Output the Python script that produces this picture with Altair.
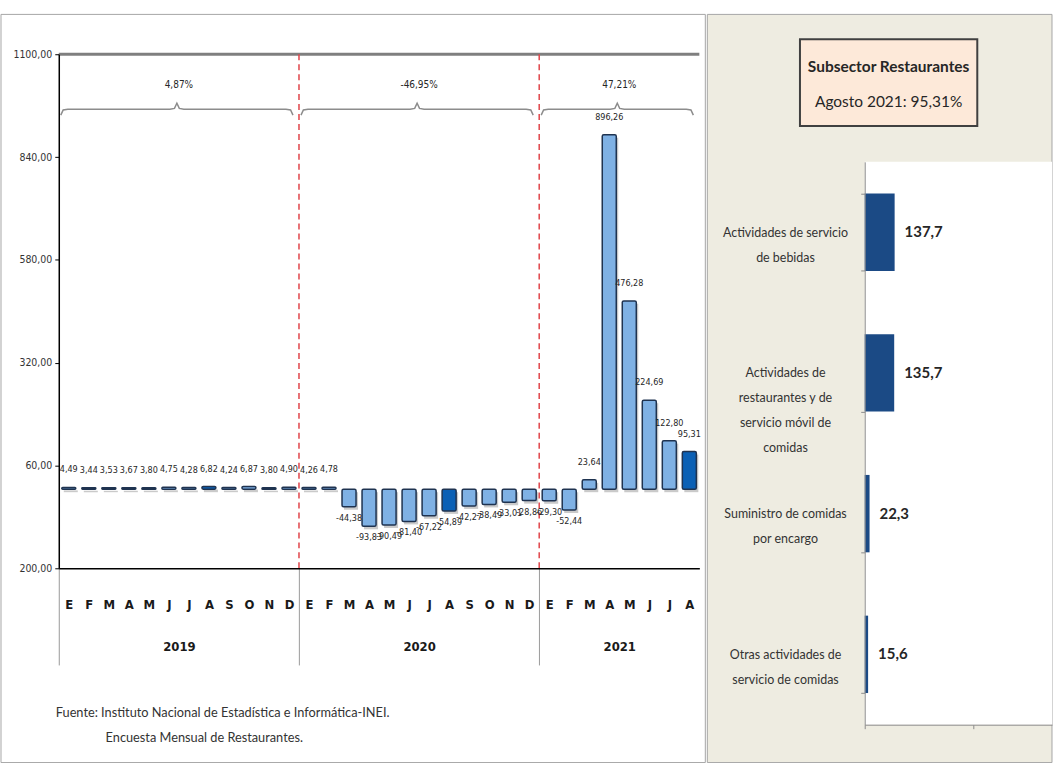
import json
import altair as alt
import pandas as pd

# ---- monthly variation of the restaurant subsector (%) ----
month_letters = ["E", "F", "M", "A", "M", "J", "J", "A", "S", "O", "N", "D"]
years = [2019, 2020, 2021]
values_2019 = [4.49, 3.44, 3.53, 3.67, 3.80, 4.75, 4.28, 6.82, 4.24, 6.87, 3.80, 4.90]
values_2020 = [4.26, 4.78, -44.38, -93.83, -90.49, -81.40, -67.22, -54.89, -42.27, -38.49, -33.01, -28.86]
values_2021 = [-29.30, -52.44, 23.64, 896.26, 476.28, 224.69, 122.80, 95.31]
annual_change = ["4,87%", "-46,95%", "47,21%"]
y_ticks = [-200, 60, 320, 580, 840, 1100]
highlight_month = 8  # agosto

# ---- August 2021 by activity ----
activities = [
    "Actividades de servicio|de bebidas",
    "Actividades de|restaurantes y de|servicio móvil de|comidas",
    "Suministro de comidas|por encargo",
    "Otras actividades de|servicio de comidas",
]
activity_values = [137.7, 135.7, 22.3, 15.6]

source_lines = [
    "Fuente: Instituto Nacional de Estadística e Informática-INEI.",
    "Encuesta Mensual de Restaurantes.",
]

NARROW = "Liberation Sans Narrow, DejaVu Sans Condensed, Arial Narrow, Liberation Sans, sans-serif"
SANS = "Lato, Open Sans, sans-serif"

# ---------- tables ----------
rows = []
idx = 0
for year, vals in zip(years, [values_2019, values_2020, values_2021]):
    for m, v in enumerate(vals):
        rows.append({
            "i": idx, "x0": idx + 0.15, "x1": idx + 0.85, "xc": idx + 0.5,
            "year": year, "month": m + 1, "v": v,
            "hl": "agosto" if m + 1 == highlight_month else "otro",
            "label": f"{v:.2f}".replace(".", ","),
        })
        idx += 1
monthly = pd.DataFrame(rows)
n_months = len(monthly)

spans = []
start = 0
for year, vals, txt in zip(years, [values_2019, values_2020, values_2021], annual_change):
    end = start + len(vals)
    spans.append({"year": year, "start": start, "end": end, "mid": (start + end) / 2, "txt": txt})
    start = end
spans = pd.DataFrame(spans)
boundaries = pd.DataFrame({"b": spans["start"].tolist()[1:]})

# curly braces over each year, built from the year spans
BRACE_Y, BRACE_H = 961, 15
brace_rows = []
for _, s in spans.iterrows():
    a, b = s["start"] + 0.1, s["end"] - 0.3
    m = (a + b) / 2
    pts = [(a, -BRACE_H), (a + 0.12, -2), (a + 0.35, 0), (m - 0.35, 0), (m - 0.12, 2), (m, BRACE_H),
           (m + 0.12, 2), (m + 0.35, 0), (b - 0.35, 0), (b - 0.12, -2), (b, -BRACE_H)]
    for k, (px, py) in enumerate(pts):
        brace_rows.append({"year": s["year"], "k": k, "bx": px, "by": BRACE_Y + py})
braces = pd.DataFrame(brace_rows)

one = pd.DataFrame({"z": [0]})

# ---------- left panel: monthly bars ----------
L_W, L_H = 643, 516
xscale = alt.Scale(domain=[0, n_months], nice=False, zero=False)
yscale = alt.Scale(domain=[y_ticks[0], y_ticks[-1]], nice=False, zero=False)

month_axis = alt.Axis(
    values=[i + 0.5 for i in range(n_months)],
    labelExpr=f"{json.dumps(month_letters)}[floor(datum.value) % 12]",
    orient="bottom", ticks=False, grid=False, title=None, domainColor="#000000", domainWidth=1.5,
    labelFont=NARROW, labelFontSize=13, labelFontWeight="bold", labelColor="#1a1a1a",
    labelPadding=30, labelFlush=False, labelOverlap=False, zindex=1,
)
y_axis = alt.Axis(
    values=y_ticks,
    labelExpr="replace(format(abs(datum.value), '.2f'), '.', ',')",
    tickSize=4, tickColor="#000000", domainColor="#000000", domainWidth=1.5, grid=False, title=None,
    labelFont=NARROW, labelFontSize=10.5, labelColor="#333333", labelPadding=3,
    labelFlush=False, labelOverlap=False, zindex=1,
)
year_axis = alt.Axis(
    values=spans["mid"].tolist(),
    labelExpr=f"toString({years[0]} + floor(datum.value / 12))",
    orient="bottom", ticks=False, domain=False, grid=False, title=None,
    labelFont=NARROW, labelFontSize=13, labelFontWeight="bold", labelColor="#1a1a1a",
    labelPadding=73, labelFlush=False, labelOverlap=False, zindex=1,
)
sep_axis = alt.Axis(
    values=spans["start"].tolist(), orient="bottom", labels=False, domain=False, grid=False,
    title=None, tickSize=97, tickColor="#9a9a9a", tickWidth=1, zindex=1,
)

panel_border = alt.Chart(one).mark_rect(fill="white", fillOpacity=0, stroke="#a6a6a6", strokeWidth=1).encode(
    x=alt.value(-58), x2=alt.value(649), y=alt.value(-40), y2=alt.value(711)
)

top_line = alt.Chart(one).mark_rule(color="#7f7f7f", strokeWidth=3).encode(
    y=alt.Y("yy:Q", scale=yscale, axis=y_axis)
).transform_calculate(yy=str(y_ticks[-1]))

year_rules = alt.Chart(boundaries).mark_rule(color="#e0454a", strokeDash=[6, 4], strokeWidth=1.5).encode(
    x=alt.X("b:Q", scale=xscale, axis=sep_axis)
)

brace_lines = alt.Chart(braces).mark_line(color="#8c8c8c", strokeWidth=1.5).encode(
    x=alt.X("bx:Q", scale=xscale, axis=None),
    y=alt.Y("by:Q", scale=yscale, axis=y_axis),
    detail="year:N",
    order="k:Q",
)

brace_text = alt.Chart(spans).mark_text(font=NARROW, fontSize=10, color="#262626", baseline="middle").encode(
    x=alt.X("mid:Q", scale=xscale, axis=year_axis),
    y=alt.Y("ty:Q", scale=yscale, axis=y_axis),
    text="txt:N",
).transform_calculate(ty="1022")

shadow = alt.Chart(monthly).mark_bar(color="#8a8a8a", opacity=0.45, xOffset=2, x2Offset=2, yOffset=3, y2Offset=3).encode(
    x=alt.X("x0:Q", scale=xscale, axis=None),
    x2="x1:Q",
    y=alt.Y("v:Q", scale=yscale, axis=y_axis),
    y2=alt.datum(0),
)

bars = alt.Chart(monthly).mark_bar(stroke="#1f3350", strokeWidth=1.5, cornerRadius=1.5).encode(
    x=alt.X("x0:Q", scale=xscale, axis=month_axis),
    x2="x1:Q",
    y=alt.Y("v:Q", scale=yscale, axis=y_axis),
    y2=alt.datum(0),
    fill=alt.Fill("hl:N", scale=alt.Scale(domain=["otro", "agosto"], range=["#7fb1e4", "#0b60b5"]), legend=None),
)

val_pos = alt.Chart(monthly).transform_filter("datum.v >= 0").mark_text(
    font=NARROW, fontSize=9, color="#262626", baseline="middle", dy=-18
).encode(
    x=alt.X("xc:Q", scale=xscale, axis=None),
    y=alt.Y("v:Q", scale=yscale, axis=y_axis),
    text="label:N",
)
val_neg = alt.Chart(monthly).transform_filter("datum.v < 0").mark_text(
    font=NARROW, fontSize=9, color="#262626", baseline="middle", dy=11
).encode(
    x=alt.X("xc:Q", scale=xscale, axis=None),
    y=alt.Y("v:Q", scale=yscale, axis=y_axis),
    text="label:N",
)

source1 = alt.Chart(one).mark_text(font=SANS, fontSize=12.8, color="#333333", align="left", baseline="middle").encode(
    x=alt.value(-3), y=alt.value(661), text=alt.value(source_lines[0])
)
source2 = alt.Chart(one).mark_text(font=SANS, fontSize=12.8, color="#333333", align="left", baseline="middle").encode(
    x=alt.value(47), y=alt.value(686), text=alt.value(source_lines[1])
)

left = alt.layer(
    panel_border, top_line, year_rules, brace_lines, brace_text, shadow, bars, val_pos, val_neg, source1, source2
).resolve_axis(x="independent").properties(width=L_W, height=L_H)

# ---------- right panel: August 2021 by activity ----------
# the panel's plot shares its top with the left one; the bars use the lower part of it
R_W, R_H = 188, 673
BAR_TOP = 108
acts = pd.DataFrame({
    "cat": activities,
    "v": activity_values,
    "label": [f"{v:.1f}".replace(".", ",") for v in activity_values],
})

cat_axis = alt.Axis(
    labelExpr="split(datum.label, '|')", tickBand="extent", tickSize=4, tickColor="#8c8c8c",
    domainColor="#8c8c8c", grid=False, title=None, labelAlign="center", labelBaseline="middle",
    labelPadding=76, labelFont=SANS, labelFontSize=12.5, labelLineHeight=25, labelColor="#333333",
    labelLimit=0, zindex=1,
)
cat_scale = alt.Scale(paddingInner=0.45, paddingOuter=0.225, range=[BAR_TOP, R_H])
val_axis = alt.Axis(values=[0, 500], labels=False, tickSize=4, tickColor="#8c8c8c", domainColor="#8c8c8c",
                    grid=False, title=None, zindex=1)
val_scale = alt.Scale(domain=[0, 862], nice=False)

beige = alt.Chart(one).mark_rect(fill="#eeece1", stroke="#a6a6a6", strokeWidth=1).encode(
    x=alt.value(-158), x2=alt.value(R_W), y=alt.value(-40), y2=alt.value(711)
)
plot_bg = alt.Chart(one).mark_rect(fill="white").encode(
    x=alt.value(0), x2=alt.value(R_W), y=alt.value(BAR_TOP), y2=alt.value(R_H)
)
title_box = alt.Chart(one).mark_rect(fill="#fde9d9", stroke="#404040", strokeWidth=2).encode(
    x=alt.value(-65), x2=alt.value(113), y=alt.value(-15), y2=alt.value(72)
)
aug_text = "Agosto 2021: " + f"{values_2021[-1]:.2f}".replace(".", ",") + "%"
title1 = alt.Chart(one).mark_text(font=SANS, fontSize=15.5, fontWeight="bold", color="#262626").encode(
    x=alt.value(24), y=alt.value(13), text=alt.value("Subsector Restaurantes")
)
title2 = alt.Chart(one).mark_text(font=SANS, fontSize=15.5, color="#262626").encode(
    x=alt.value(24), y=alt.value(48), text=alt.value(aug_text)
)
hbars = alt.Chart(acts).mark_bar(color="#1b4a85").encode(
    y=alt.Y("cat:N", sort=activities, scale=cat_scale, axis=cat_axis),
    x=alt.X("v:Q", scale=val_scale, axis=val_axis),
)
hlabels = alt.Chart(acts).mark_text(font=SANS, fontSize=15, fontWeight="bold", color="#262626",
                                    align="left", baseline="middle", dx=10).encode(
    y=alt.Y("cat:N", sort=activities, scale=cat_scale, axis=cat_axis),
    x=alt.X("v:Q", scale=val_scale, axis=val_axis),
    text="label:N",
)

right = alt.layer(beige, plot_bg, title_box, title1, title2, hbars, hlabels).properties(width=R_W, height=R_H)

chart = alt.hconcat(left, right, spacing=0).properties(
    padding={"left": 0, "top": 12, "right": 0, "bottom": 0},
    background="white",
).configure_view(strokeWidth=0)

chart.save("out.html", embed_options={"renderer": "svg", "actions": False})
